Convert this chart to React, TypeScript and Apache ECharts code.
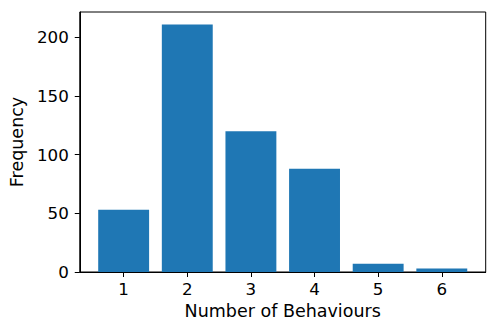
import React, { useEffect, useRef } from "react";
import * as echarts from "echarts";

const categories = [1, 2, 3, 4, 5, 6];
const frequencies = [53, 211, 120, 88, 7, 3];
const yTicks = [0, 50, 100, 150, 200];
const xLabel = "Number of Behaviours";
const yLabel = "Frequency";

export default function App() {
  const ref = useRef<HTMLDivElement>(null);
  useEffect(() => {
    if (!ref.current) return;
    const chart = echarts.init(ref.current, null, { renderer: "svg" });
    const font = "DejaVu Sans";
    const fs = 16.7;
    const nfs = 17.5;
    const data = categories.map((c, i) => [c, frequencies[i]]);
    chart.setOption({
      animation: false,
      grid: {
        left: 77.5,
        top: 12,
        right: 12.3,
        bottom: 60,
        show: true,
        borderColor: "#000",
        borderWidth: 1,
        backgroundColor: "transparent",
      },
      xAxis: {
        type: "value",
        min: 0.31,
        max: 6.69,
        name: xLabel,
        nameLocation: "middle",
        nameGap: 28,
        nameTextStyle: { fontFamily: font, fontSize: nfs, color: "#000" },
        axisLine: { show: true, lineStyle: { color: "#000", width: 1 } },
        axisTick: { show: true, length: 5, lineStyle: { color: "#000", width: 1 }, customValues: categories },
        axisLabel: { fontFamily: font, fontSize: fs, color: "#000", margin: 8, customValues: categories },
        splitLine: { show: false },
      },
      yAxis: {
        type: "value",
        min: 0,
        max: 221.55,
        name: yLabel,
        nameLocation: "middle",
        nameGap: 50,
        nameTextStyle: { fontFamily: font, fontSize: nfs, color: "#000" },
        axisLine: { show: true, lineStyle: { color: "#000", width: 1 } },
        axisTick: { show: true, length: 5, lineStyle: { color: "#000", width: 1 }, customValues: yTicks },
        axisLabel: { fontFamily: font, fontSize: fs, color: "#000", margin: 11, customValues: yTicks },
        splitLine: { show: false },
      },
      series: [
        {
          type: "custom",
          data,
          renderItem: (params: any, api: any) => {
            const x = api.value(0);
            const y = api.value(1);
            const p0 = api.coord([x - 0.4, y]);
            const p1 = api.coord([x + 0.4, 0]);
            return {
              type: "rect",
              shape: { x: p0[0], y: p0[1], width: p1[0] - p0[0], height: p1[1] - p0[1] },
              style: { fill: "#1f77b4" },
            };
          },
        },
      ],
    });
    return () => chart.dispose();
  }, []);
  return (
    <div
      ref={ref}
      style={{ position: "fixed", left: 0, top: 0, width: 498, height: 332, background: "#fff" }}
    />
  );
}
